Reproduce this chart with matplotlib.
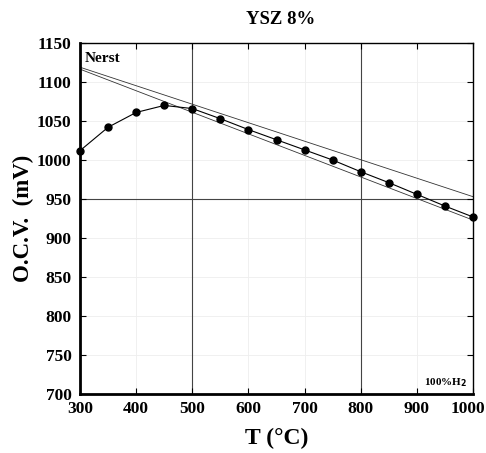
import numpy as np
import matplotlib.pyplot as plt
import matplotlib.transforms as mtransforms

# valeurs
temp = [300, 350, 400, 450, 500, 550, 600, 650, 700, 750, 800, 850, 900, 950, 1000]
ocv = [1012, 1042, 1061, 1070, 1066, 1053, 1039, 1026, 1013, 1000, 985, 971, 956, 941, 927]

nerst_T = [300, 1000]
nerst_upper = [1119, 953]
nerst_lower = [1116.5, 923]

x_ticks = [300, 400, 500, 600, 700, 800, 900, 1000]
y_ticks = [700, 750, 800, 850, 900, 950, 1000, 1050, 1100, 1150]

plt.rcParams['font.family'] = ['Liberation Serif', 'DejaVu Serif']
plt.rcParams['font.weight'] = 'bold'

fig = plt.figure(figsize=(4.86, 4.53), dpi=100)
ax = fig.add_axes([0.1646, 0.1302, 0.8087, 0.7748])

# grille claire + lignes foncées
for x in x_ticks[1:-1]:
    ax.axvline(x, color='#eeeeee', lw=0.6, zorder=0)
for y in y_ticks[1:-1]:
    ax.axhline(y, color='#eeeeee', lw=0.6, zorder=0)
ax.axvline(500, color='#444444', lw=0.8, zorder=1)
ax.axvline(800, color='#444444', lw=0.8, zorder=1)
ax.axhline(950, color='#444444', lw=0.8, zorder=1)

ax.plot(nerst_T, nerst_upper, color='#333333', lw=0.6, zorder=2)
ax.plot(nerst_T, nerst_lower, color='#333333', lw=0.6, zorder=2)
ax.plot(temp, ocv, 'o-', color='black', lw=0.8, markersize=5, zorder=3, clip_on=False)

ax.set_xlim(300, 1000)
ax.set_ylim(700, 1150)
ax.set_xticks(x_ticks)
ax.set_yticks(y_ticks)
ax.tick_params(direction='in', length=4, width=0.8, labelsize=12.5, pad=5,
               top=True, right=True)
ax.tick_params(axis='y', pad=6)
for lab in ax.get_xticklabels() + ax.get_yticklabels():
    lab.set_fontweight('bold')

# le dernier label touche le bord droit : petit décalage
last = ax.get_xticklabels()[-1]
last.set_transform(last.get_transform() + mtransforms.ScaledTranslation(-5 / 100, 0, fig.dpi_scale_trans))

ax.spines['left'].set_linewidth(2)
ax.spines['bottom'].set_linewidth(2)
ax.spines['top'].set_linewidth(1)
ax.spines['right'].set_linewidth(1)

ax.text(309, 1130, 'Nerst', fontsize=11, fontweight='bold', va='center')
ax.text(990, 714, r'100%H$_\mathbf{2}$', fontsize=8, fontweight='bold', ha='right', va='center')

ax.set_xlabel('T (°C)', fontsize=17, fontweight='bold', labelpad=8)
ax.set_ylabel('O.C.V.  (mV)', fontsize=16.5, fontweight='bold', labelpad=2)
fig.text(281 / 486, 1 - 19 / 453, 'YSZ 8%', fontsize=13.5, fontweight='bold', ha='center', va='center')

fig.savefig('out.png', dpi=100, facecolor='white')
